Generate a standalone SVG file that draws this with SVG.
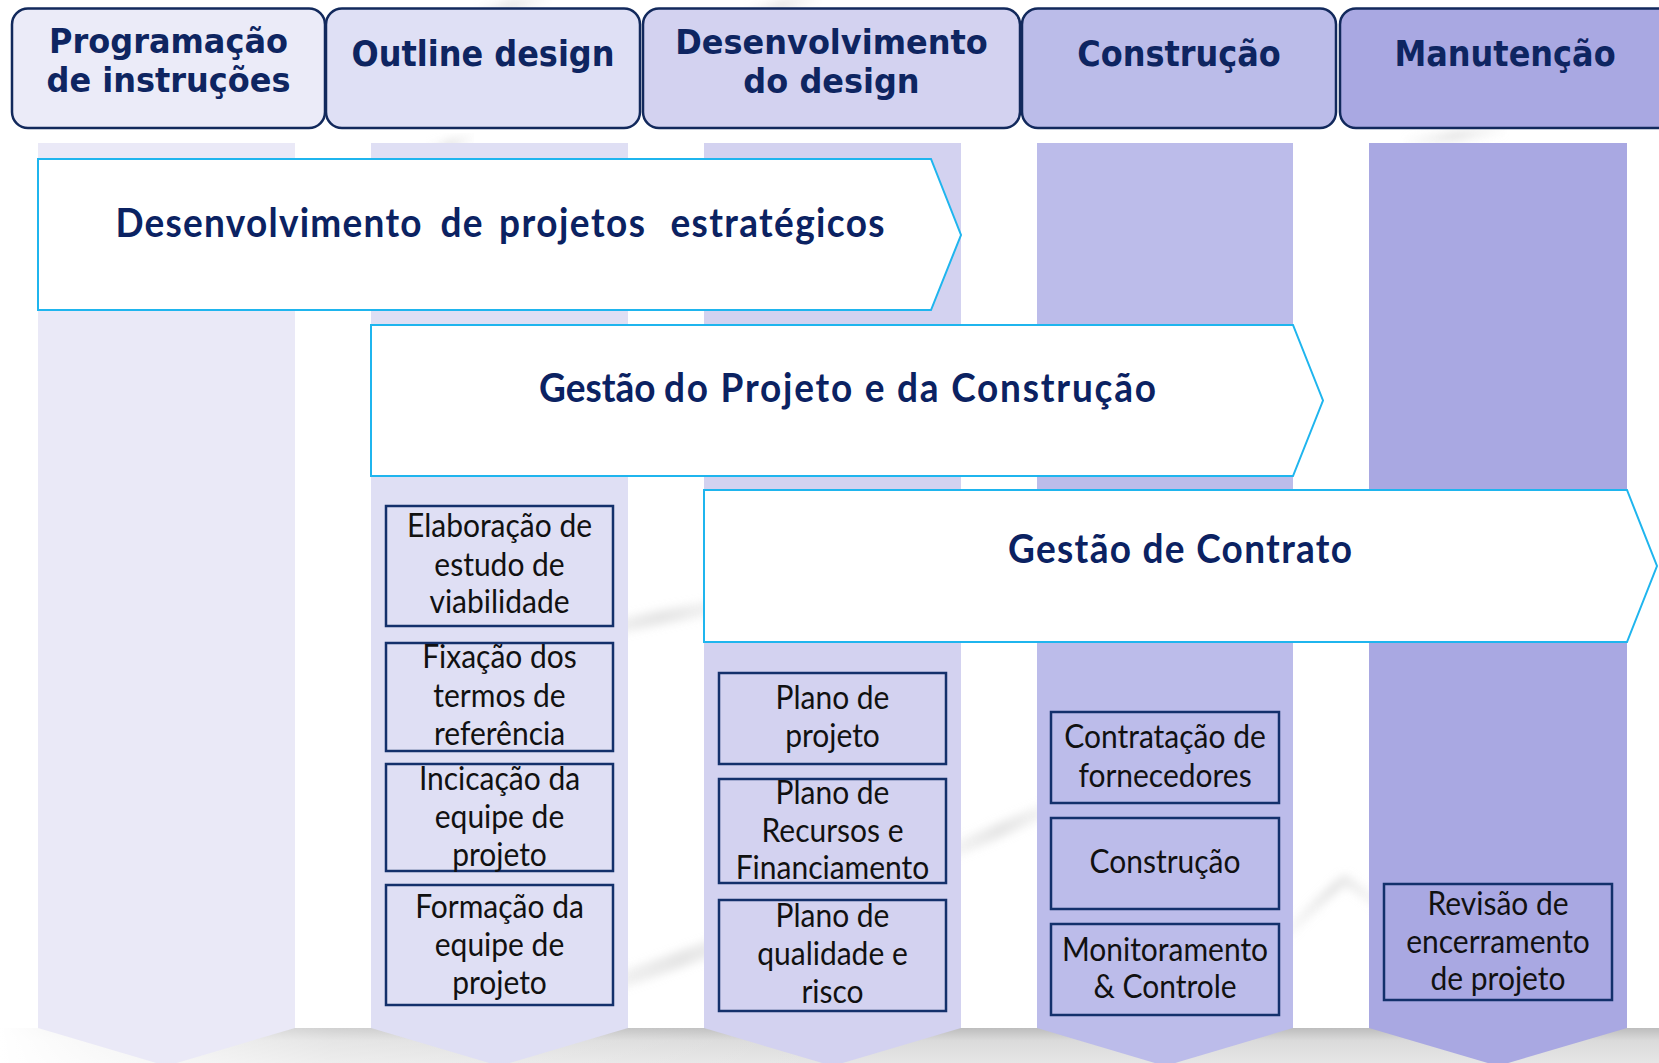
<svg xmlns="http://www.w3.org/2000/svg" width="1659" height="1063" viewBox="0 0 1659 1063">
  <defs>
    <style>
      .hdr-box { stroke: #12295C; stroke-width: 2.5; }
      .hdr { font-family: "DejaVu Sans", Verdana, sans-serif; font-weight: bold; font-size: 32px; fill: #0E2561; text-anchor: middle; }
      .phase { fill: #FFFFFF; stroke: #1FB5EE; stroke-width: 2; }
      .big { font-family: Lato, "Open Sans", sans-serif; font-weight: 700; font-size: 37px; fill: #0B2262; }
      .task-box { stroke: #13306B; stroke-width: 2.5; }
      .task { font-family: Lato, "Open Sans", sans-serif; font-size: 30px; fill: #111111; text-anchor: middle; }
      .swoosh { fill: none; stroke: url(#swooshGrad); stroke-linecap: round; filter: url(#soft); }
    </style>
    <linearGradient id="bandV" x1="0" y1="0" x2="0" y2="1">
      <stop offset="0" stop-color="#BDBDBD"/>
      <stop offset="0.35" stop-color="#DADADA"/>
      <stop offset="1" stop-color="#E6E6E6"/>
    </linearGradient>
    <linearGradient id="bandFade" x1="0" y1="0" x2="1" y2="0">
      <stop offset="0" stop-color="#FFFFFF" stop-opacity="1"/>
      <stop offset="0.2" stop-color="#FFFFFF" stop-opacity="0.3"/>
      <stop offset="0.5" stop-color="#FFFFFF" stop-opacity="0"/>
    </linearGradient>
    <linearGradient id="swooshGrad" x1="0" y1="0" x2="1" y2="0">
      <stop offset="0" stop-color="#D4D4D4" stop-opacity="0.1"/>
      <stop offset="0.5" stop-color="#CCCCCC" stop-opacity="0.5"/>
      <stop offset="1" stop-color="#D4D4D4" stop-opacity="0.1"/>
    </linearGradient>
    <filter id="soft" x="-10%" y="-50%" width="120%" height="200%">
      <feGaussianBlur stdDeviation="4"/>
    </filter>
  </defs>

  <g id="background">
    <rect x="0" y="0" width="1659" height="1063" fill="#FFFFFF"/>
    <path class="swoosh" d="M560,640 C620,625 680,612 760,600" stroke-width="14"/>
    <path class="swoosh" d="M560,1000 C640,975 720,945 800,915" stroke-width="16"/>
    <path class="swoosh" d="M930,860 C980,840 1020,820 1070,800" stroke-width="14"/>
    <path class="swoosh" d="M1280,940 C1310,910 1330,890 1345,880 C1360,890 1375,900 1390,915" stroke-width="10"/>
    <path class="swoosh" d="M480,12 C500,6 520,3 545,0" stroke-width="10"/>
    <path class="swoosh" d="M750,12 C770,6 790,3 815,0" stroke-width="10"/>
    <path class="swoosh" d="M430,150 C445,146 455,143 470,139" stroke-width="10"/>
    <path class="swoosh" d="M1410,142 C1440,138 1470,134 1500,130" stroke-width="10"/>
    <rect x="0" y="1028" width="1659" height="35" fill="url(#bandV)"/>
    <rect x="0" y="1028" width="1659" height="35" fill="url(#bandFade)"/>
  </g>

  <g id="columns">
    <polygon id="col-1" points="38,143 295,143 295,1028 166.5,1066 38,1028" fill="#EAE9F7"/>
    <polygon id="col-2" points="371,143 628,143 628,1028 499.5,1066 371,1028" fill="#DFDFF4"/>
    <polygon id="col-3" points="704,143 961,143 961,1028 832.5,1066 704,1028" fill="#D3D2F0"/>
    <polygon id="col-4" points="1037,143 1293,143 1293,1028 1165,1066 1037,1028" fill="#BCBCEA"/>
    <polygon id="col-5" points="1369,143 1627,143 1627,1028 1498,1066 1369,1028" fill="#A9A8E2"/>
  </g>

  <g id="headers">
    <g id="hdr-programacao">
      <rect class="hdr-box" x="12" y="8.5" width="313" height="119.5" rx="16" fill="#EBEBF8"/>
      <text class="hdr" transform="translate(168.5,53) scale(1,1.07)">Programação</text>
      <text class="hdr" transform="translate(168.5,92) scale(1,1.07)">de instruções</text>
    </g>
    <g id="hdr-outline">
      <rect class="hdr-box" x="326" y="8.5" width="314" height="119.5" rx="16" fill="#DFE0F5"/>
      <text class="hdr" transform="translate(483,66) scale(1,1.1)">Outline design</text>
    </g>
    <g id="hdr-desenvolvimento">
      <rect class="hdr-box" x="643" y="8.5" width="377" height="119.5" rx="16" fill="#D3D2F0"/>
      <text class="hdr" transform="translate(831.5,54) scale(1,1.07)">Desenvolvimento</text>
      <text class="hdr" transform="translate(831.5,93) scale(1,1.07)">do design</text>
    </g>
    <g id="hdr-construcao">
      <rect class="hdr-box" x="1022" y="8.5" width="314" height="119.5" rx="16" fill="#BBBCE9"/>
      <text class="hdr" transform="translate(1179,66) scale(1,1.1)">Construção</text>
    </g>
    <g id="hdr-manutencao">
      <rect class="hdr-box" x="1340" y="8.5" width="340" height="119.5" rx="16" fill="#A9A8E2"/>
      <text class="hdr" transform="translate(1505,66) scale(1,1.1)">Manutenção</text>
    </g>
  </g>

  <g id="phases">
    <g id="phase-estrategicos">
      <polygon class="phase" points="38,159 931,159 961,235 931,310 38,310"/>
      <text class="big" transform="translate(0,237) scale(1,1.08)">
        <tspan x="115.5" textLength="306">Desenvolvimento</tspan>
        <tspan x="440.5" textLength="42">de</tspan>
        <tspan x="499" textLength="146">projetos</tspan>
        <tspan x="670.5" textLength="214">estratégicos</tspan>
      </text>
    </g>
    <g id="phase-gestao-projeto">
      <polygon class="phase" points="371,325 1293,325 1323,400.5 1293,476 371,476"/>
      <text class="big" transform="translate(0,402) scale(1,1.08)">
        <tspan x="539">Gestão</tspan>
        <tspan x="664" textLength="492">do Projeto e da Construção</tspan>
      </text>
    </g>
    <g id="phase-gestao-contrato">
      <polygon class="phase" points="704,490 1627,490 1657,566 1627,642 704,642"/>
      <text class="big" transform="translate(1008,563) scale(1,1.08)" textLength="344">Gestão de Contrato</text>
    </g>
  </g>

  <g id="tasks">
    <g id="task-elaboracao">
      <rect class="task-box" x="386" y="506" width="227" height="120" fill="#DFDFF4"/>
      <text class="task" transform="translate(499.5,537) scale(1,1.07)">Elaboração de</text>
      <text class="task" transform="translate(499.5,576) scale(1,1.07)">estudo de</text>
      <text class="task" transform="translate(499.5,613) scale(1,1.07)">viabilidade</text>
    </g>
    <g id="task-fixacao">
      <rect class="task-box" x="386" y="643" width="227" height="108" fill="#DFDFF4"/>
      <text class="task" transform="translate(499.5,668) scale(1,1.07)">Fixação dos</text>
      <text class="task" transform="translate(499.5,707) scale(1,1.07)">termos de</text>
      <text class="task" transform="translate(499.5,745) scale(1,1.07)">referência</text>
    </g>
    <g id="task-incicacao">
      <rect class="task-box" x="386" y="764" width="227" height="107" fill="#DFDFF4"/>
      <text class="task" transform="translate(499.5,790) scale(1,1.07)">Incicação da</text>
      <text class="task" transform="translate(499.5,828) scale(1,1.07)">equipe de</text>
      <text class="task" transform="translate(499.5,866) scale(1,1.07)">projeto</text>
    </g>
    <g id="task-formacao">
      <rect class="task-box" x="386" y="885" width="227" height="120" fill="#DFDFF4"/>
      <text class="task" transform="translate(499.5,918) scale(1,1.07)">Formação da</text>
      <text class="task" transform="translate(499.5,956) scale(1,1.07)">equipe de</text>
      <text class="task" transform="translate(499.5,994) scale(1,1.07)">projeto</text>
    </g>
    <g id="task-plano-projeto">
      <rect class="task-box" x="719" y="673" width="227" height="91" fill="#D3D2F0"/>
      <text class="task" transform="translate(832.5,709) scale(1,1.07)">Plano de</text>
      <text class="task" transform="translate(832.5,747) scale(1,1.07)">projeto</text>
    </g>
    <g id="task-plano-recursos">
      <rect class="task-box" x="719" y="779" width="227" height="104" fill="#D3D2F0"/>
      <text class="task" transform="translate(832.5,804) scale(1,1.07)">Plano de</text>
      <text class="task" transform="translate(832.5,842) scale(1,1.07)">Recursos e</text>
      <text class="task" transform="translate(832.5,879) scale(1,1.07)">Financiamento</text>
    </g>
    <g id="task-plano-qualidade">
      <rect class="task-box" x="719" y="900" width="227" height="111" fill="#D3D2F0"/>
      <text class="task" transform="translate(832.5,927) scale(1,1.07)">Plano de</text>
      <text class="task" transform="translate(832.5,965) scale(1,1.07)">qualidade e</text>
      <text class="task" transform="translate(832.5,1003) scale(1,1.07)">risco</text>
    </g>
    <g id="task-contratacao">
      <rect class="task-box" x="1051" y="712" width="228" height="91" fill="#BCBCEA"/>
      <text class="task" transform="translate(1165,748) scale(1,1.07)">Contratação de</text>
      <text class="task" transform="translate(1165,787) scale(1,1.07)">fornecedores</text>
    </g>
    <g id="task-construcao">
      <rect class="task-box" x="1051" y="818" width="228" height="91" fill="#BCBCEA"/>
      <text class="task" transform="translate(1165,873) scale(1,1.07)">Construção</text>
    </g>
    <g id="task-monitoramento">
      <rect class="task-box" x="1051" y="924" width="228" height="91" fill="#BCBCEA"/>
      <text class="task" transform="translate(1165,961) scale(1,1.07)">Monitoramento</text>
      <text class="task" transform="translate(1165,998) scale(1,1.07)">&amp; Controle</text>
    </g>
    <g id="task-revisao">
      <rect class="task-box" x="1384" y="884" width="228" height="116" fill="#A9A8E2"/>
      <text class="task" transform="translate(1498,915) scale(1,1.07)">Revisão de</text>
      <text class="task" transform="translate(1498,953) scale(1,1.07)">encerramento</text>
      <text class="task" transform="translate(1498,990) scale(1,1.07)">de projeto</text>
    </g>
  </g>

  <g id="connectors"/>
</svg>
